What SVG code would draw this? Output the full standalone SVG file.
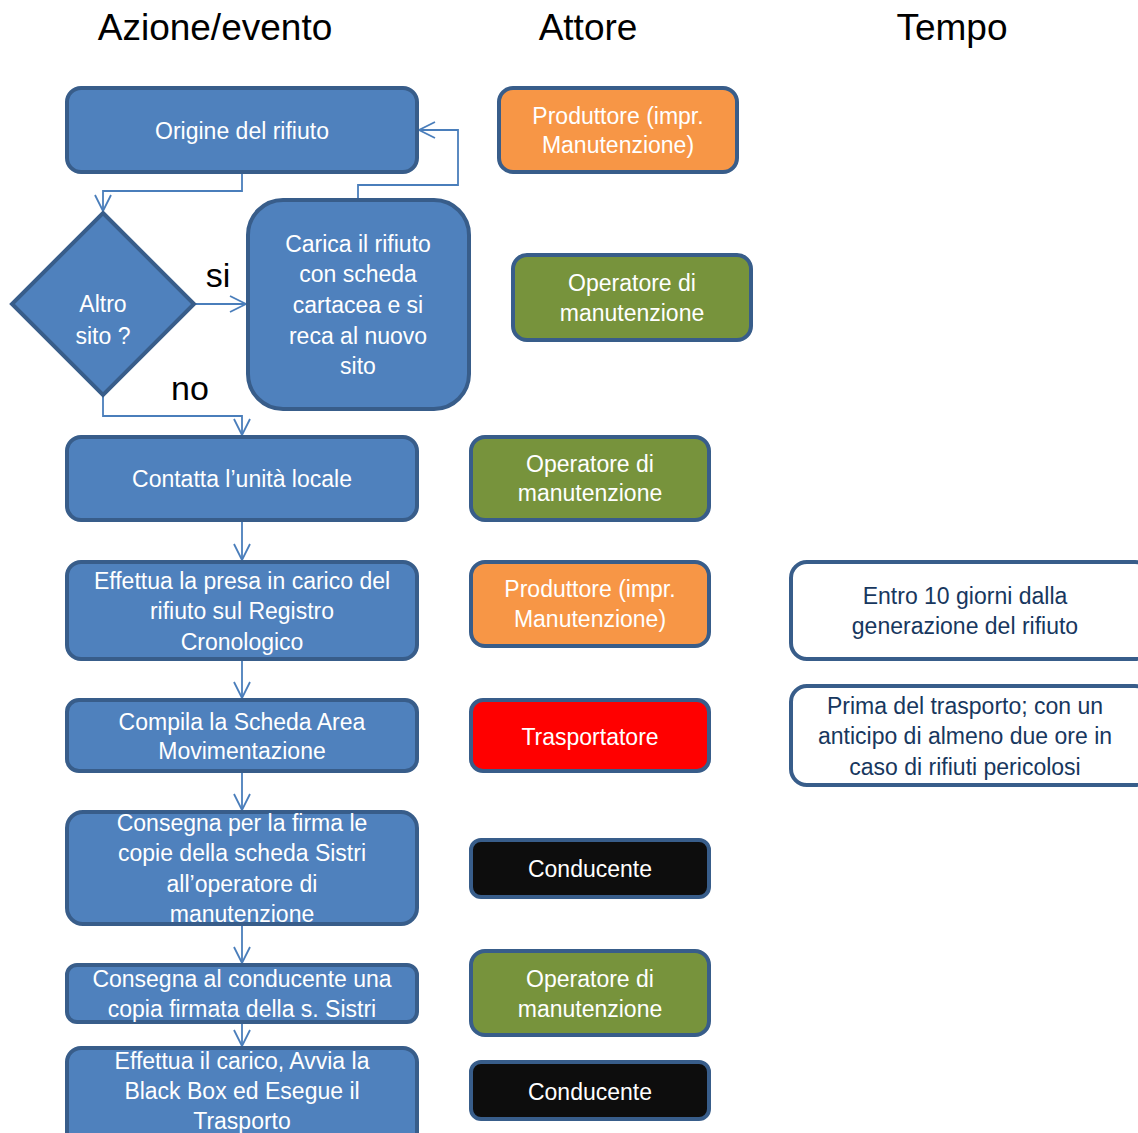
<svg xmlns="http://www.w3.org/2000/svg" width="1138" height="1133" viewBox="0 0 1138 1133">
<defs>
<style>
text{font-family:"Liberation Sans",Arial,sans-serif;text-anchor:middle;dominant-baseline:central}
.hdr{font-size:37px;fill:#000}
.lbl{font-size:34px;fill:#000}
.t{font-size:23px;fill:#fff}
.tt{font-size:23px;fill:#17375e}
.box{stroke:#385d8a;stroke-width:4}
.blue{fill:#4f81bd}
.org{fill:#f79646}
.grn{fill:#77933c}
.red{fill:#ff0000}
.blk{fill:#0d0d0d}
.wht{fill:#fff}
.con{fill:none;stroke:#4a7ebb;stroke-width:1.8}
</style>
<marker id="ah" viewBox="0 0 20 20" refX="18" refY="10" markerWidth="20" markerHeight="20" markerUnits="userSpaceOnUse" orient="auto">
<path d="M2,2 L18,10 L2,18" fill="none" stroke="#4a7ebb" stroke-width="1.8"/>
</marker>
</defs>
<rect width="1138" height="1133" fill="#fff"/>
<g id="headers">
<text class="hdr" x="215" y="27">Azione/evento</text>
<text class="hdr" x="588" y="27">Attore</text>
<text class="hdr" x="952" y="27">Tempo</text>
</g>
<g id="connectors">
<path class="con" d="M242,172 V191 H103 V211" marker-end="url(#ah)"/>
<path class="con" d="M358,200 V185 H458 V130 H419" marker-end="url(#ah)"/>
<path class="con" d="M194,304 H246" marker-end="url(#ah)"/>
<path class="con" d="M103,395 V416 H242 V435" marker-end="url(#ah)"/>
<path class="con" d="M242,520 V560" marker-end="url(#ah)"/>
<path class="con" d="M242,659 V698" marker-end="url(#ah)"/>
<path class="con" d="M242,771 V810" marker-end="url(#ah)"/>
<path class="con" d="M242,924 V963" marker-end="url(#ah)"/>
<path class="con" d="M242,1022 V1046" marker-end="url(#ah)"/>
</g>
<g id="edge-labels">
<text class="lbl" x="218" y="275">si</text>
<text class="lbl" x="190" y="388">no</text>
</g>
<g id="n-origine">
<rect class="box blue" x="67" y="88" width="350" height="84" rx="14"/>
<text class="t" x="242" y="131">Origine del rifiuto</text>
</g>
<g id="n-altro">
<polygon class="box blue" points="103,213 194,304 103,395 12,304"/>
<text class="t" x="103" y="304">Altro</text>
<text class="t" x="103" y="336">sito ?</text>
</g>
<g id="n-carica">
<rect class="box blue" x="248" y="200" width="221" height="209" rx="35"/>
<text class="t" x="358" y="244">Carica il rifiuto</text>
<text class="t" x="358" y="274">con scheda</text>
<text class="t" x="358" y="305">cartacea e si</text>
<text class="t" x="358" y="336">reca al nuovo</text>
<text class="t" x="358" y="366">sito</text>
</g>
<g id="n-contatta">
<rect class="box blue" x="67" y="437" width="350" height="83" rx="14"/>
<text class="t" x="242" y="479">Contatta l’unità locale</text>
</g>
<g id="n-presa">
<rect class="box blue" x="67" y="562" width="350" height="97" rx="14"/>
<text class="t" x="242" y="581">Effettua la presa in carico del</text>
<text class="t" x="242" y="611">rifiuto sul Registro</text>
<text class="t" x="242" y="642">Cronologico</text>
</g>
<g id="n-compila">
<rect class="box blue" x="67" y="700" width="350" height="71" rx="12"/>
<text class="t" x="242" y="722">Compila la Scheda Area</text>
<text class="t" x="242" y="751">Movimentazione</text>
</g>
<g id="n-firma">
<rect class="box blue" x="67" y="812" width="350" height="112" rx="16"/>
<text class="t" x="242" y="823">Consegna per la firma le</text>
<text class="t" x="242" y="853">copie della scheda Sistri</text>
<text class="t" x="242" y="884">all’operatore di</text>
<text class="t" x="242" y="914">manutenzione</text>
</g>
<g id="n-copia">
<rect class="box blue" x="67" y="965" width="350" height="57" rx="10"/>
<text class="t" x="242" y="979">Consegna al conducente una</text>
<text class="t" x="242" y="1009">copia firmata della s. Sistri</text>
</g>
<g id="n-carico">
<rect class="box blue" x="67" y="1048" width="350" height="100" rx="14"/>
<text class="t" x="242" y="1061">Effettua il carico,  Avvia la</text>
<text class="t" x="242" y="1091">Black Box ed Esegue il</text>
<text class="t" x="242" y="1121">Trasporto</text>
</g>
<g id="a-produttore1">
<rect class="box org" x="499" y="88" width="238" height="84" rx="14"/>
<text class="t" x="618" y="116">Produttore (impr.</text>
<text class="t" x="618" y="145">Manutenzione)</text>
</g>
<g id="a-operatore1">
<rect class="box grn" x="513" y="255" width="238" height="85" rx="14"/>
<text class="t" x="632" y="283">Operatore di</text>
<text class="t" x="632" y="313">manutenzione</text>
</g>
<g id="a-operatore2">
<rect class="box grn" x="471" y="437" width="238" height="83" rx="14"/>
<text class="t" x="590" y="464">Operatore di</text>
<text class="t" x="590" y="493">manutenzione</text>
</g>
<g id="a-produttore2">
<rect class="box org" x="471" y="562" width="238" height="84" rx="14"/>
<text class="t" x="590" y="589">Produttore (impr.</text>
<text class="t" x="590" y="619">Manutenzione)</text>
</g>
<g id="a-trasportatore">
<rect class="box red" x="471" y="700" width="238" height="71" rx="12"/>
<text class="t" x="590" y="737">Trasportatore</text>
</g>
<g id="a-conducente1">
<rect class="box blk" x="471" y="840" width="238" height="57" rx="10"/>
<text class="t" x="590" y="869">Conducente</text>
</g>
<g id="a-operatore3">
<rect class="box grn" x="471" y="951" width="238" height="84" rx="14"/>
<text class="t" x="590" y="979">Operatore di</text>
<text class="t" x="590" y="1009">manutenzione</text>
</g>
<g id="a-conducente2">
<rect class="box blk" x="471" y="1062" width="238" height="57" rx="10"/>
<text class="t" x="590" y="1092">Conducente</text>
</g>
<g id="t-entro">
<rect class="box wht" x="791" y="562" width="360" height="97" rx="16"/>
<text class="tt" x="965" y="596">Entro 10 giorni dalla</text>
<text class="tt" x="965" y="626">generazione del rifiuto</text>
</g>
<g id="t-prima">
<rect class="box wht" x="791" y="686" width="360" height="99" rx="16"/>
<text class="tt" x="965" y="706">Prima del trasporto; con un</text>
<text class="tt" x="965" y="736">anticipo di almeno due ore in</text>
<text class="tt" x="965" y="767">caso di rifiuti pericolosi</text>
</g>
</svg>
